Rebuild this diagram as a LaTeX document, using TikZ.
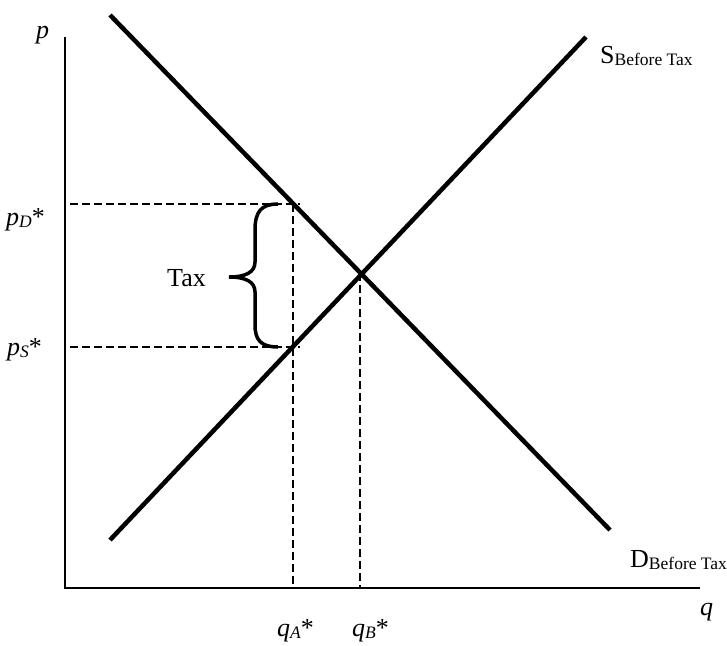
\documentclass[tikz,border=0pt]{standalone}
\usepackage{fontspec}
\setmainfont{Liberation Serif}
\usepackage{tikz}

\newcommand{\lowsub}[1]{\raisebox{-2pt}{\fontsize{17.5}{20}\selectfont #1}}

\begin{document}
\begin{tikzpicture}[x=1pt, y=-1pt, font=\fontsize{26}{30}\selectfont,
    curve/.style={line width=4.5pt},
    guide/.style={line width=1.5pt, dash pattern=on 8pt off 4pt},
    lbl/.style={anchor=base west, inner sep=0pt}]
  \useasboundingbox (0,0) rectangle (727,645);
  % axes
  \draw[line width=2pt] (65,37) -- (65,588) -- (700,588);
  \node[lbl] (plab) at (36,38) {\textit{p}};
  \node[lbl] (qlab) at (700,615) {\textit{q}};
  % supply and demand
  \coordinate (S0) at (110,540);
  \coordinate (S1) at (586,37);
  \coordinate (D0) at (110,15);
  \coordinate (D1) at (610,530);
  \draw[curve] (S0) -- (S1);
  \draw[curve] (D0) -- (D1);
  \node[lbl] (slab) at (600,63) {S\lowsub{Before Tax}};
  \node[lbl] (dlab) at (630,567) {D\lowsub{Before Tax}};
  % dashed guides
  \draw[guide] (70,204) -- (300,204);
  \draw[guide] (70,347) -- (300,347);
  \draw[guide] (293,204) -- (293,588);
  \draw[guide] (360,273) -- (360,588);
  \node[lbl] (pdlab) at (6,225) {\textit{p}\lowsub{\textit{D}}*};
  \node[lbl] (pslab) at (7,355) {\textit{p}\lowsub{\textit{S}}*};
  \node[lbl] (qalab) at (277,636) {\textit{q}\lowsub{\textit{A}}*};
  \node[lbl] (qblab) at (352,636) {\textit{q}\lowsub{\textit{B}}*};
  % tax brace
  \draw[line width=3.5pt] (278,204) .. controls (261,204) and (255,212) .. (255,230)
    -- (255,262) .. controls (255,272) and (246,277) .. (229,277)
    .. controls (246,277) and (255,282) .. (255,292)
    -- (255,325) .. controls (255,340) and (261,347) .. (278,347);
  \node[lbl] (taxlab) at (167,286) {Tax};
\end{tikzpicture}
\end{document}
